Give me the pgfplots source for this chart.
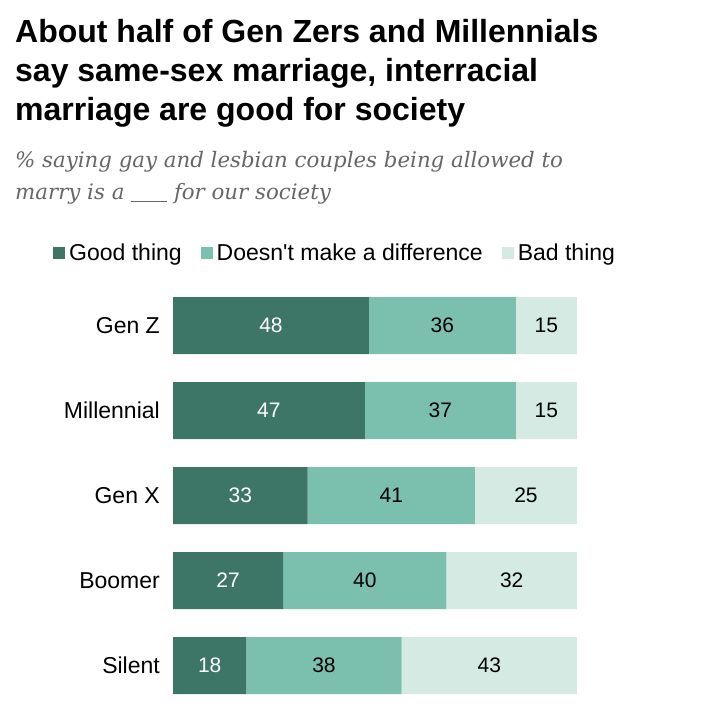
\documentclass[border=0pt]{standalone}
\usepackage{fontspec}
\setmainfont{Liberation Sans}
\newfontfamily\titlefont{Liberation Sans}
\newfontfamily\subfont{DejaVu Serif}
\usepackage{pgfplots}
\pgfplotsset{compat=1.18}
\definecolor{good}{HTML}{3D7667}
\definecolor{same}{HTML}{7BBFAF}
\definecolor{bad}{HTML}{D4EAE3}
\definecolor{subgray}{HTML}{666666}
\begin{document}
\begin{tikzpicture}[x=1pt,y=1pt]
\path[fill=white] (0,0) rectangle (720,728);
% title
\begin{scope}[every node/.style={anchor=base west, inner sep=0pt, font=\titlefont\bfseries\fontsize{32}{32}\selectfont}]
\node at (15,685) {About half of Gen Zers and Millennials};
\node at (15,646) {say same-sex marriage, interracial};
\node at (15,607) {marriage are good for society};
\end{scope}
% subtitle
\begin{scope}[every node/.style={anchor=base west, inner sep=0pt, text=subgray, font=\subfont\itshape\fontsize{21.3}{21.3}\selectfont}]
\node at (15,560) {\% saying gay and lesbian couples being allowed to};
\node at (15,528) {marry is a \rule[-2pt]{36pt}{0.8pt} for our society};
\end{scope}
\begin{axis}[
  at={(173pt,20pt)}, anchor=south west,
  scale only axis, width=404pt, height=425pt,
  xbar stacked, bar width=57pt,
  xmin=0, xmax=99, ymin=-0.5, ymax=4.5, y dir=reverse,
  axis line style={draw=none}, tick style={draw=none},
  xtick=\empty, ytick={0,1,2,3,4},
  yticklabels={Gen Z, Millennial, Gen X, Boomer, Silent},
  yticklabel style={font=\fontsize{23}{23}\selectfont, inner sep=0pt, xshift=-13pt},
  point meta=rawx,
  nodes near coords,
  every node near coord/.append style={font=\fontsize{21}{21}\selectfont, text=black},
  /pgf/number format/assume math mode=true,
  legend columns=3,
  legend image code/.code={\fill[#1] (0pt,-6pt) rectangle (12pt,6pt);},
  legend style={draw=none, fill=none, at={(0,1)}, anchor=west,
    xshift=-123pt, yshift=30pt,
    font=\fontsize{23}{23}\selectfont,
    /tikz/every odd column/.append style={column sep=2pt},
    /tikz/every even column/.append style={column sep=17pt}},
]
\addplot[fill=good, draw=none, every node near coord/.append style={text=white}]
  coordinates {(48,0) (47,1) (33,2) (27,3) (18,4)};
\addplot[fill=same, draw=none]
  coordinates {(36,0) (37,1) (41,2) (40,3) (38,4)};
\addplot[fill=bad, draw=none]
  coordinates {(15,0) (15,1) (25,2) (32,3) (43,4)};
\legend{Good thing, Doesn\textquotesingle t make a difference, Bad thing}
\end{axis}
\end{tikzpicture}
\end{document}
